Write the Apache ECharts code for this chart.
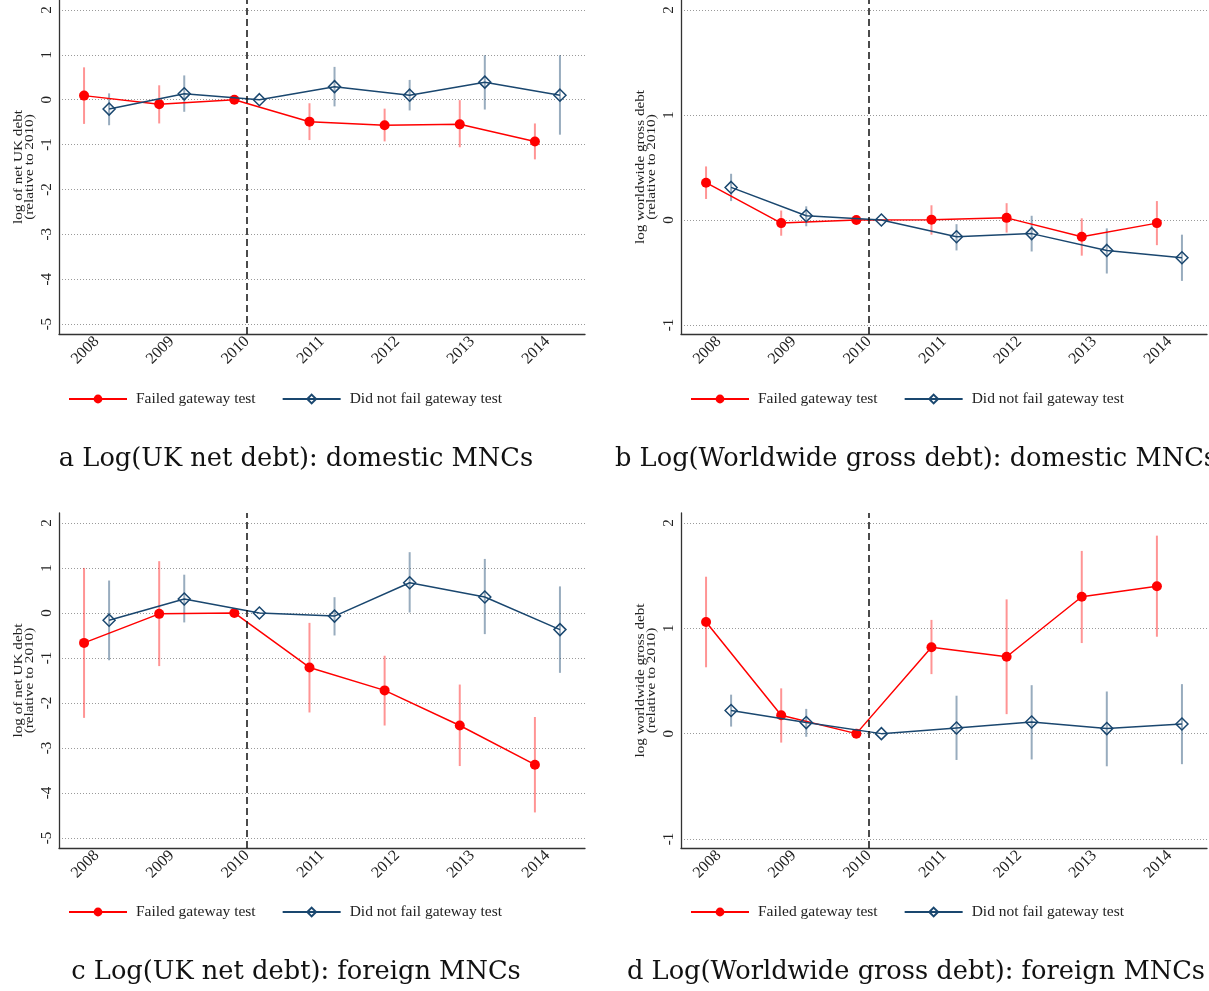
<!DOCTYPE html>
<html>
<head>
<meta charset="utf-8">
<script src="https://cdn.jsdelivr.net/npm/echarts@6/dist/echarts.min.js"></script>
<style>
html,body{margin:0;padding:0;background:#fff;}
#chart{width:1209px;height:991px;}
</style>
</head>
<body>
<div id="chart"></div>
<script>
// ---------- data ----------
const years = [2008, 2009, 2010, 2011, 2012, 2013, 2014];
const yTicksUK = [-5, -4, -3, -2, -1, 0, 1, 2];
const yTicksWW = [-1, 0, 1, 2];

// a: UK net debt, domestic MNCs
const aFailed    = [0.09, -0.10, 0, -0.49, -0.57, -0.55, -0.93];
const aFailedLo  = [-0.54, -0.53, null, -0.90, -0.93, -1.06, -1.33];
const aFailedHi  = [0.72, 0.32, null, -0.08, -0.20, -0.01, -0.53];
const aPassed    = [-0.21, 0.13, 0, 0.29, 0.10, 0.39, 0.10];
const aPassedLo  = [-0.57, -0.27, null, -0.15, -0.24, -0.22, -0.78];
const aPassedHi  = [0.14, 0.54, null, 0.73, 0.44, 0.99, 0.99];

// b: Worldwide gross debt, domestic MNCs
const bFailed    = [0.355, -0.03, 0, 0.003, 0.02, -0.16, -0.03];
const bFailedLo  = [0.20, -0.15, null, -0.14, -0.12, -0.34, -0.24];
const bFailedHi  = [0.51, 0.09, null, 0.14, 0.16, 0.016, 0.18];
const bPassed    = [0.31, 0.04, 0, -0.16, -0.13, -0.29, -0.36];
const bPassedLo  = [0.18, -0.06, null, -0.29, -0.30, -0.51, -0.58];
const bPassedHi  = [0.44, 0.13, null, -0.04, 0.04, -0.08, -0.14];

// c: UK net debt, foreign MNCs
const cFailed    = [-0.665, -0.02, 0, -1.21, -1.72, -2.50, -3.37];
const cFailedLo  = [-2.33, -1.18, null, -2.21, -2.50, -3.40, -4.43];
const cFailedHi  = [1.00, 1.15, null, -0.22, -0.95, -1.59, -2.31];
const cPassed    = [-0.16, 0.31, 0, -0.07, 0.67, 0.355, -0.37];
const cPassedLo  = [-1.05, -0.21, null, -0.50, 0.01, -0.47, -1.33];
const cPassedHi  = [0.72, 0.85, null, 0.35, 1.35, 1.20, 0.59];

// d: Worldwide gross debt, foreign MNCs
const dFailed    = [1.06, 0.175, 0, 0.82, 0.73, 1.30, 1.40];
const dFailedLo  = [0.63, -0.085, null, 0.565, 0.185, 0.86, 0.92];
const dFailedHi  = [1.49, 0.43, null, 1.08, 1.275, 1.735, 1.88];
const dPassed    = [0.22, 0.105, 0, 0.054, 0.11, 0.048, 0.092];
const dPassedLo  = [0.067, -0.03, null, -0.25, -0.245, -0.31, -0.29];
const dPassedHi  = [0.37, 0.235, null, 0.36, 0.46, 0.40, 0.47];

const nameFailed = 'Failed gateway test';
const namePassed = 'Did not fail gateway test';
const yTitleUK = 'log of net UK debt\n(relative to 2010)';
const yTitleWW = 'log worldwide gross debt\n(relative to 2010)';
const captions = [
  'a Log(UK net debt): domestic MNCs',
  'b Log(Worldwide gross debt): domestic MNCs',
  'c Log(UK net debt): foreign MNCs',
  'd Log(Worldwide gross debt): foreign MNCs'
];
const refYear = 2010;

// ---------- styling ----------
const RED = '#ff0000', RED_CI = 'rgba(255,0,0,0.42)';
const NAVY = '#1a476f', NAVY_CI = 'rgba(26,71,111,0.45)';
const SERIF = '"Liberation Serif", "Times New Roman", serif';
const OFF = 1 / 6;

const panels = [
  {F: aFailed, FL: aFailedLo, FH: aFailedHi, P: aPassed, PL: aPassedLo, PH: aPassedHi, uk: true,  left: 59,  top: 0,   h: 334, capY: 459, legY: 386},
  {F: bFailed, FL: bFailedLo, FH: bFailedHi, P: bPassed, PL: bPassedLo, PH: bPassedHi, uk: false, left: 681, top: 0,   h: 334, capY: 459, legY: 386},
  {F: cFailed, FL: cFailedLo, FH: cFailedHi, P: cPassed, PL: cPassedLo, PH: cPassedHi, uk: true,  left: 59,  top: 513, h: 335, capY: 972, legY: 899},
  {F: dFailed, FL: dFailedLo, FH: dFailedHi, P: dPassed, PL: dPassedLo, PH: dPassedHi, uk: false, left: 681, top: 513, h: 335, capY: 972, legY: 899}
];

const grid = [], xAxis = [], yAxis = [], series = [], legend = [], graphic = [];

function ciData(lo, hi, off) {
  const out = [];
  years.forEach((y, i) => { if (lo[i] != null && hi[i] != null) out.push([y + off, lo[i], hi[i]]); });
  return out;
}
function ciSeries(idx, data, color) {
  return {
    type: 'custom', xAxisIndex: idx, yAxisIndex: idx, silent: true, z: 2,
    encode: {x: 0, y: [1, 2]},
    data: data,
    renderItem: function (params, api) {
      const p1 = api.coord([api.value(0), api.value(1)]);
      const p2 = api.coord([api.value(0), api.value(2)]);
      return {type: 'line', shape: {x1: p1[0], y1: p1[1], x2: p2[0], y2: p2[1]},
              style: {stroke: color, lineWidth: 2}};
    }
  };
}

panels.forEach((p, i) => {
  grid.push({left: p.left, top: p.top, width: 526, height: p.h, containLabel: false});
  xAxis.push({
    type: 'value', gridIndex: i, min: 2007.5, max: 2014.5,
    axisLine: {show: true, onZero: false, lineStyle: {color: '#333', width: 1.3}},
    axisTick: {show: false, customValues: years},
    splitLine: {show: false},
    axisLabel: {customValues: years, rotate: 45, margin: 5, color: '#222',
                fontFamily: SERIF, fontSize: 16, formatter: v => String(v)}
  });
  const yt = p.uk ? yTicksUK : yTicksWW;
  yAxis.push({
    type: 'value', gridIndex: i,
    min: p.uk ? -5.22 : -1.086, max: p.uk ? 2.22 : 2.095,
    axisLine: {show: true, lineStyle: {color: '#333', width: 1.3}},
    axisTick: {show: false, customValues: yt},
    axisLabel: {customValues: yt, rotate: 90, margin: 4, color: '#222',
                fontFamily: SERIF, fontSize: 15},
    splitLine: {show: true, lineStyle: {color: '#9a9a9a', type: [1, 2], width: 1}}
  });
  series.push(ciSeries(i, ciData(p.FL, p.FH, -OFF), RED_CI));
  series.push(ciSeries(i, ciData(p.PL, p.PH, OFF), NAVY_CI));
  series.push({
    type: 'line', name: nameFailed, xAxisIndex: i, yAxisIndex: i, z: 3,
    data: years.map((y, k) => [y - OFF, p.F[k]]),
    symbol: 'circle', symbolSize: 10, showSymbol: true,
    lineStyle: {color: RED, width: 1.5}, itemStyle: {color: RED},
    markLine: {
      silent: true, symbol: ['none', 'none'], label: {show: false},
      lineStyle: {color: '#111', type: [7, 4], width: 1.5},
      data: [{xAxis: refYear}]
    }
  });
  series.push({
    type: 'line', name: namePassed, xAxisIndex: i, yAxisIndex: i, z: 4,
    data: years.map((y, k) => [y + OFF, p.P[k]]),
    symbol: 'diamond', symbolSize: 12, showSymbol: true,
    lineStyle: {color: NAVY, width: 1.5},
    itemStyle: {color: 'rgba(255,255,255,0)', borderColor: NAVY, borderWidth: 1.5}
  });
  legend.push({
    left: p.left + 4, top: p.legY,
    itemWidth: 58, itemHeight: 11, itemGap: 26,
    data: [nameFailed, namePassed],
    textStyle: {fontFamily: SERIF, fontSize: 15.5, color: '#222', padding: [0, 0, 0, 4]},
    selectedMode: false
  });
  // caption
  graphic.push({
    type: 'text', x: (i % 2 === 0 ? 296 : 916), y: p.capY, silent: true,
    style: {text: captions[i], font: '25.7px "DejaVu Serif", serif', fill: '#111',
            textAlign: 'center', textVerticalAlign: 'middle'}
  });
  // y-axis title (rotated, slightly stretched along its length like the reference)
  graphic.push({
    type: 'text', x: p.left - 35, y: p.top + p.h / 2, rotation: Math.PI / 2,
    scaleX: 1.17, scaleY: 1, silent: true,
    style: {text: p.uk ? yTitleUK : yTitleWW, font: '13px "Liberation Serif", serif',
            fill: '#222', textAlign: 'center', textVerticalAlign: 'middle', lineHeight: 11}
  });
});

const chart = echarts.init(document.getElementById('chart'), null, {renderer: 'canvas'});
chart.setOption({
  animation: false,
  backgroundColor: '#fff',
  grid, xAxis, yAxis, series, legend, graphic
});
</script>
</body>
</html>
